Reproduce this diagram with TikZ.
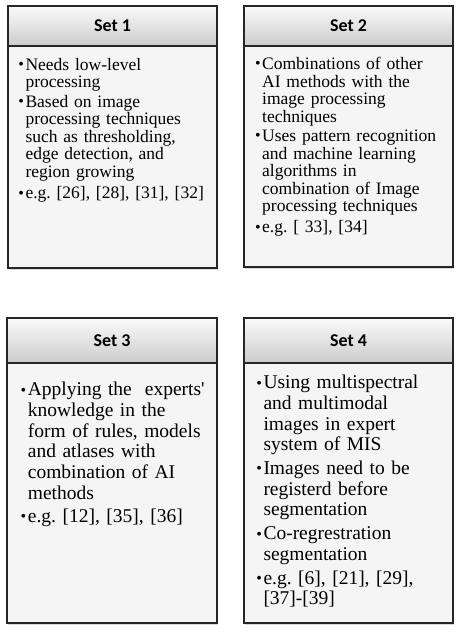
\documentclass[tikz,border=0pt]{standalone}
\usepackage{fontspec}
\setmainfont{Liberation Serif}
\newfontfamily\hdrfont{Carlito}
\usetikzlibrary{shadows}
\newcommand{\bl}[3]{{\let\\\newline\noindent\hangindent=#1\hangafter=1\makebox[#1][r]{\raisebox{0.6pt}{\fontsize{16}{16}\selectfont\textbullet}\hspace{1.6pt}}#3\par}\vspace{#2}}
\begin{document}
\begin{tikzpicture}[x=1pt,y=1pt,
  hdr/.style={draw=black!85,line width=1.3pt,top color=black!2,bottom color=black!20,
    inner sep=0,outer sep=0,anchor=north west,font=\hdrfont\bfseries\fontsize{18}{20}\selectfont},
  bodybox/.style={draw=black!85,line width=1.3pt,fill=black!4,inner sep=0,outer sep=0,anchor=north west,
    drop shadow={shadow xshift=1.2pt,shadow yshift=-2.5pt,opacity=0.3}},
  txtA/.style={anchor=north west,inner sep=0,text width=200pt,font=\fontsize{17.5}{17.6}\selectfont\frenchspacing},
  txtB/.style={anchor=north west,inner sep=0,text width=200pt,font=\fontsize{19.5}{20.7}\selectfont\frenchspacing}]
\useasboundingbox (0,0) rectangle (461,637);
% Set 1
\node[bodybox,minimum width=209pt,minimum height=222pt] (b1) at (8,591) {};
\node[hdr,minimum width=209pt,minimum height=40pt] (h1) at (8,631) {Set 1};
% Set 2
\node[bodybox,minimum width=209pt,minimum height=221pt] (b2) at (244,591) {};
\node[hdr,minimum width=209pt,minimum height=40pt] (h2) at (244,631) {Set 2};
% Set 3
\node[bodybox,minimum width=210pt,minimum height=260pt] (b3) at (7,274) {};
\node[hdr,minimum width=210pt,minimum height=45pt] (h3) at (7,319) {Set 3};
% Set 4
\node[bodybox,minimum width=209pt,minimum height=260pt] (b4) at (244,274) {};
\node[hdr,minimum width=209pt,minimum height=45pt] (h4) at (244,319) {Set 4};
% texts
\node[txtA] (t1) at (15.3,579) {\raggedright
\bl{10pt}{1.5pt}{Needs low-level\\processing}%
\bl{10pt}{3.7pt}{Based on image\\processing techniques\\such as thresholding,\\edge detection, and\\region growing}%
\bl{10pt}{0pt}{e.g. [26], [28], [31], [32]}};
\node[txtA] (t2) at (252,580) {\raggedright
\bl{10pt}{1.5pt}{Combinations of other\\AI methods with the\\image processing\\techniques}%
\bl{10pt}{3.5pt}{Uses pattern recognition\\and machine learning\\algorithms in\\combination of Image\\processing techniques}%
\bl{10pt}{0pt}{e.g. [ 33], [34]}};
\node[txtB] (t3) at (17.7,255) {\raggedright
\bl{10pt}{2.5pt}{Applying the~ experts\textquotesingle\\knowledge in the\\form of rules, models\\and atlases with\\combination of AI\\methods}%
\bl{10pt}{0pt}{e.g. [12], [35], [36]}};
\node[txtB] (t4) at (253.3,262) {\raggedright
\bl{10pt}{3pt}{Using multispectral\\and multimodal\\images in expert\\system of MIS}%
\bl{10pt}{3pt}{Images need to be\\registerd before\\segmentation}%
\bl{10pt}{3pt}{Co-regrestration\\segmentation}%
\bl{10pt}{0pt}{e.g. [6], [21], [29],\\{}[37]-[39]}};
\end{tikzpicture}
\end{document}
